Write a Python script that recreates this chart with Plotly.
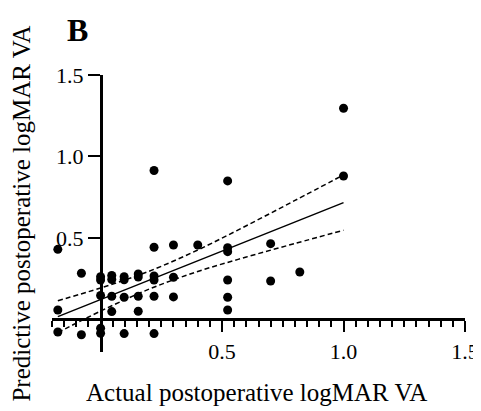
import plotly.graph_objects as go

# Actual (x) vs predictive (y) postoperative logMAR VA
actual_x = [-0.176, -0.176, -0.176,
            -0.079, -0.079,
            0.0, 0.0, 0.0, 0.0, 0.0,
            0.046, 0.046, 0.046, 0.046,
            0.097, 0.097, 0.097, 0.097,
            0.155, 0.155, 0.155, 0.155,
            0.22, 0.22, 0.22, 0.22, 0.22, 0.22,
            0.30, 0.30, 0.30,
            0.40,
            0.523, 0.523, 0.523, 0.523, 0.523, 0.523,
            0.70, 0.70,
            0.82,
            1.0, 1.0]
predicted_y = [0.43, 0.058, -0.077,
               0.283, -0.094,
               0.262, 0.242, 0.147, -0.054, -0.085,
               0.27, 0.245, 0.142, 0.048,
               0.262, 0.243, 0.136, -0.087,
               0.279, 0.26, 0.142, 0.05,
               0.914, 0.443, 0.267, 0.242, 0.142, -0.087,
               0.457, 0.259, 0.138,
               0.457,
               0.85, 0.44, 0.416, 0.242, 0.136, 0.058,
               0.465, 0.236,
               0.291,
               1.296, 0.880]

# Regression line and 95% confidence band
fit_x = [-0.176, 1.0]
fit_y = [0.017, 0.717]
band_x = [-0.176, 0.0, 0.2, 0.4, 0.6, 0.8, 1.0]
band_upper = [0.115, 0.193, 0.296, 0.426, 0.575, 0.730, 0.887]
band_lower = [-0.081, 0.051, 0.186, 0.294, 0.383, 0.466, 0.547]

x_tick_vals = [0.5, 1.0, 1.5]
x_tick_text = ["0.5", "1.0", "1.5"]
y_tick_vals = [0.5, 1.0, 1.5]
y_tick_text = ["0.5", "1.0", "1.5"]

x_range = [-0.2, 1.5]
y_range = [-0.2, 1.5]

FONT = "Liberation Serif, Times New Roman, serif"

# the page body has an 8px margin; shift everything up/left by it
OFF = 8
W, H = 481 - OFF, 411 - OFF
ML, MR, MT, MB = 52 - OFF, 16, 75 - OFF, 59

fig = go.Figure()
fig.add_trace(go.Scatter(x=band_x, y=band_upper, mode="lines", line_shape="spline",
                         line=dict(color="black", width=1.5, dash="5px,3px"),
                         showlegend=False, hoverinfo="skip"))
fig.add_trace(go.Scatter(x=band_x, y=band_lower, mode="lines", line_shape="spline",
                         line=dict(color="black", width=1.5, dash="5px,3px"),
                         showlegend=False, hoverinfo="skip"))
fig.add_trace(go.Scatter(x=fit_x, y=fit_y, mode="lines",
                         line=dict(color="black", width=1.5),
                         showlegend=False, hoverinfo="skip"))
fig.add_trace(go.Scatter(x=actual_x, y=predicted_y, mode="markers",
                         marker=dict(color="black", size=9, symbol="circle"),
                         cliponaxis=False, showlegend=False))

xpos = (0 - y_range[0]) / (y_range[1] - y_range[0])
ypos = (0 - x_range[0]) / (x_range[1] - x_range[0])

pw = W - ML - MR
ph = H - MT - MB


def px2paper(px, py):
    return (px - OFF - ML) / pw, 1 - (py - OFF - MT) / ph


annots = [
    ("Actual postoperative logMAR VA", 256, 392, 0, 25),
    ("<b>B</b>", 77, 30, 0, 32),
]
annotations = []
for text, px, py, ang, size in annots:
    ax, ay = px2paper(px, py)
    annotations.append(dict(text=text, x=ax, y=ay, xref="paper", yref="paper",
                            xanchor="center", yanchor="middle", showarrow=False,
                            textangle=ang, borderpad=0,
                            font=dict(family=FONT, size=size, color="black")))

fig.update_layout(
    width=W, height=H,
    margin=dict(l=ML, r=MR, t=MT, b=MB, autoexpand=False),
    paper_bgcolor="white", plot_bgcolor="white",
    font=dict(family=FONT, color="black", size=22),
    xaxis=dict(range=x_range, anchor="free", position=xpos,
               showgrid=False, zeroline=False,
               showline=True, linecolor="black", linewidth=2.5,
               tickmode="array", tickvals=x_tick_vals, ticktext=x_tick_text,
               ticks="outside", ticklen=11, tickwidth=2, tickcolor="black",
               tickfont=dict(family=FONT, size=22, color="black"),
               minor=dict(dtick=0.05, tick0=0, ticks="outside", ticklen=6,
                          tickwidth=2, tickcolor="black", showgrid=False)),
    yaxis=dict(range=y_range, anchor="free", position=ypos,
               showgrid=False, zeroline=False,
               showline=True, linecolor="black", linewidth=2.5,
               tickmode="array", tickvals=y_tick_vals, ticktext=y_tick_text,
               ticks="outside", ticklen=12, tickwidth=2, tickcolor="black",
               tickfont=dict(family=FONT, size=22, color="black"),
               title=dict(text="Predictive postoperative logMAR VA", standoff=33,
                          font=dict(family=FONT, size=25, color="black"))),
    annotations=annotations,
)

fig.write_html("out.html")
